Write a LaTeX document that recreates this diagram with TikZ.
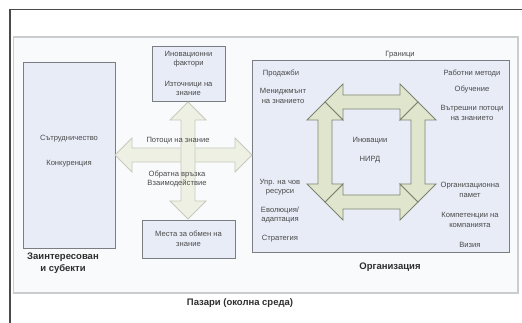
\documentclass[tikz,border=0pt]{standalone}
\usepackage{fontspec}
\setmainfont{Liberation Sans}
\usepackage{tikz}
\usetikzlibrary{positioning}
\definecolor{framegrey}{HTML}{4A4A4A}
\definecolor{panelfill}{HTML}{F9FAFB}
\definecolor{panelline}{HTML}{CACCCE}
\definecolor{boxfill}{HTML}{E7ECF6}
\definecolor{boxline}{HTML}{7A7D82}
\definecolor{sqfill}{HTML}{E0E6CD}
\definecolor{sqline}{HTML}{7E8371}
\definecolor{crossfill}{HTML}{EEF0E3}
\definecolor{crossline}{HTML}{C6C9BC}
\definecolor{txtgrey}{HTML}{4A4A4A}
\definecolor{boldgrey}{HTML}{2E2E2E}
% block arrows: from x1 to x2 at y / from y1 to y2 at x, shaft half width, head size, style
\newcommand{\hblock}[6]{%
\draw[#6] (#1,#3) -- ++(#5,-#5) -- ++(0,{#5-#4}) -- ({#2-#5},{#3-#4}) -- ++(0,{#4-#5})
    -- (#2,#3) -- ++(-#5,#5) -- ++(0,{#4-#5}) -- ({#1+#5},{#3+#4}) -- ++(0,{#5-#4}) -- cycle;}
\newcommand{\vblock}[6]{%
\draw[#6] (#1,#2) -- ++(#5,#5) -- ++({#4-#5},0) -- ({#1+#4},{#3-#5}) -- ++({#5-#4},0)
    -- (#1,#3) -- ++(-#5,-#5) -- ++({#5-#4},0) -- ({#1-#4},{#2+#5}) -- ++({#4-#5},0) -- cycle;}

\begin{document}
\begin{tikzpicture}[x=1pt,y=-1pt,
    panel/.style={draw=panelline,line width=1.3pt,fill=panelfill,inner sep=0},
    unitbox/.style={draw=boxline,line width=0.8pt,fill=boxfill,inner sep=0},
    smalltext/.style={font=\fontsize{7.6}{9.5}\selectfont,text=txtgrey,align=center,inner sep=0},
    boldtext/.style={font=\fontsize{9.5}{11.5}\selectfont\bfseries,text=boldgrey,align=center,inner sep=0},
    sqarrow/.style={draw=sqline,line width=0.8pt,fill=sqfill,line join=miter},
    crossarrow/.style={draw=crossline,line width=0.8pt,fill=crossfill}]
\useasboundingbox (0,0) rectangle (522,323);
%%%%%%%%%%%%%%%%%%%%%%%%%%%%
%%%%%%%%% Frame %%%%%%%%%%%%
%%%%%%%%%%%%%%%%%%%%%%%%%%%%
\draw[framegrey,line width=1.2pt] (10,323) -- (10,9.5) -- (522,9.5);
\node[panel,minimum width=504.5pt,minimum height=256pt] (markets) at (265.75,165) {};
\node[boldtext] (marketslabel) at (240,303) {Пазари (околна среда)};
%%%%%%%%%%%%%%%%%%%%%%%%%%%%
%%%%%%%%% Boxes %%%%%%%%%%%%
%%%%%%%%%%%%%%%%%%%%%%%%%%%%
\node[unitbox,minimum width=92pt,minimum height=186pt] (stakeholders) at (69,155) {};
\node[smalltext] (cooperation) at (69,139) {Сътрудничество};
\node[smalltext,below=17pt of cooperation] (competition) {Конкуренция};
\node[boldtext] (stakelabel) at (63,263) {Заинтересован\\и субекти};
\node[unitbox,minimum width=73pt,minimum height=55pt,smalltext] (factors) at (188.5,73.5)
    {Иновационни\\фактори\\[11pt]Източници на\\знание};
\node[unitbox,minimum width=93pt,minimum height=38pt,smalltext] (exchange) at (188.5,239)
    {Места за обмен на\\знание};
\node[unitbox,minimum width=257pt,minimum height=192pt] (organisation) at (380.5,156) {};
\node[smalltext] (borders) at (400,55) {Граници};
\node[boldtext] (orglabel) at (390,267) {Организация};
%%%%%%%%%%%%%%%%%%%%%%%%%%%%
%%%%%%%%% Cross %%%%%%%%%%%%
%%%%%%%%%%%%%%%%%%%%%%%%%%%%
\hblock{115}{252}{155}{7}{17}{crossarrow}
\vblock{188}{102}{219}{7}{18}{crossarrow}
\node[smalltext] (flows) at (178,141) {Потоци на знание};
\node[smalltext] (feedback) at (177,179) {Обратна връзка\\Взаимодействие};
%%%%%%%%%%%%%%%%%%%%%%%%%%%%
%%%%%%%%% Square %%%%%%%%%%%
%%%%%%%%%%%%%%%%%%%%%%%%%%%%
\hblock{325}{418}{102}{7}{18}{sqarrow}
\hblock{325}{418}{202}{7}{18}{sqarrow}
\vblock{325}{102}{202}{7}{18}{sqarrow}
\vblock{418}{102}{202}{7}{18}{sqarrow}
\node[smalltext] (innovation) at (370,141) {Иновации};
\node[smalltext] (rnd) at (370,160) {НИРД};
% left column
\node[smalltext] (sales) at (281,74) {Продажби};
\node[smalltext] (kmanagement) at (283,96) {Мениджмънт\\на знанието};
\node[smalltext] (hrm) at (280,187) {Упр. на чов\\ресурси};
\node[smalltext] (evolution) at (280,215) {Еволюция/\\адаптация};
\node[smalltext] (strategy) at (280,239) {Стратегия};
% right column
\node[smalltext] (methods) at (472,73) {Работни методи};
\node[smalltext] (training) at (472,90) {Обучение};
\node[smalltext] (internalflows) at (472,113) {Вътрешни потоци\\на знанието};
\node[smalltext] (memory) at (470,190) {Организационна\\памет};
\node[smalltext] (competences) at (470,220) {Компетенции на\\компанията};
\node[smalltext] (vision) at (470,245) {Визия};
\end{tikzpicture}
\end{document}
